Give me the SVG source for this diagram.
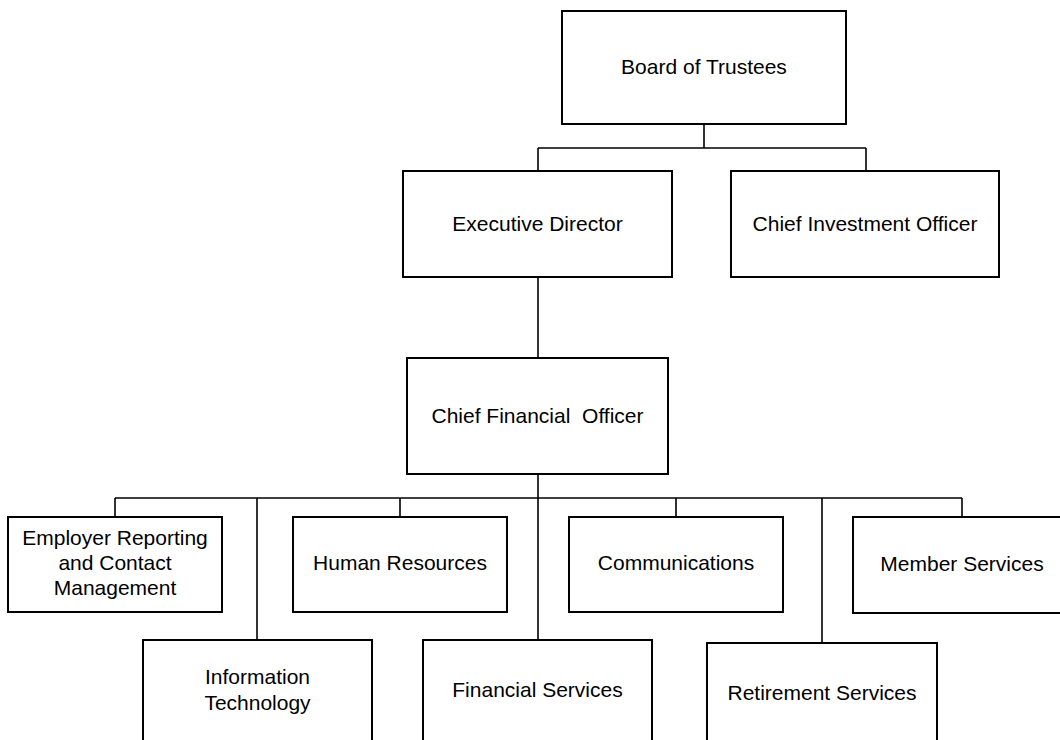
<svg xmlns="http://www.w3.org/2000/svg" width="1060" height="740" viewBox="0 0 1060 740">
<style>
.box{fill:#fff;stroke:#000;stroke-width:2}
.lbl{font-family:"Liberation Sans",Arial,sans-serif;font-size:21px;fill:#000;text-anchor:middle}
.conn{fill:none;stroke:#000;stroke-width:1.6}
</style>
<rect width="1060" height="740" fill="#fff"/>
<g id="connectors">
<path class="conn" d="M704 124V148M538 148H866M538 148V171M866 148V171"/>
<path class="conn" d="M538 277V358M538 474V498M115 498H962"/>
<path class="conn" d="M115 498V517M257 498V640M400 498V517M538 498V640M676 498V517M822 498V643M962 498V517"/>
</g>
<g id="board"><rect class="box" x="562" y="11" width="284" height="113"/><text class="lbl" x="704" y="74">Board of Trustees</text></g>
<g id="exec"><rect class="box" x="403" y="171" width="269" height="106"/><text class="lbl" x="537.5" y="231">Executive Director</text></g>
<g id="cio"><rect class="box" x="731" y="171" width="268" height="106"/><text class="lbl" x="865" y="231">Chief Investment Officer</text></g>
<g id="cfo"><rect class="box" x="407" y="358" width="261" height="116"/><text class="lbl" x="537.5" y="423" xml:space="preserve">Chief Financial  Officer</text></g>
<g id="ercm"><rect class="box" x="8" y="517" width="214" height="95"/><text class="lbl" x="115" y="545">Employer Reporting</text><text class="lbl" x="115" y="570">and Contact</text><text class="lbl" x="115" y="595">Management</text></g>
<g id="hr"><rect class="box" x="293" y="517" width="214" height="95"/><text class="lbl" x="400" y="570">Human Resources</text></g>
<g id="comm"><rect class="box" x="569" y="517" width="214" height="95"/><text class="lbl" x="676" y="570">Communications</text></g>
<g id="ms"><rect class="box" x="853" y="517" width="218" height="96"/><text class="lbl" x="962" y="571">Member Services</text></g>
<g id="it"><rect class="box" x="143" y="640" width="229" height="110"/><text class="lbl" x="257.5" y="684">Information</text><text class="lbl" x="257.5" y="710">Technology</text></g>
<g id="fs"><rect class="box" x="423" y="640" width="229" height="110"/><text class="lbl" x="537.5" y="697">Financial Services</text></g>
<g id="rs"><rect class="box" x="707" y="643" width="230" height="107"/><text class="lbl" x="822" y="700">Retirement Services</text></g>
</svg>
